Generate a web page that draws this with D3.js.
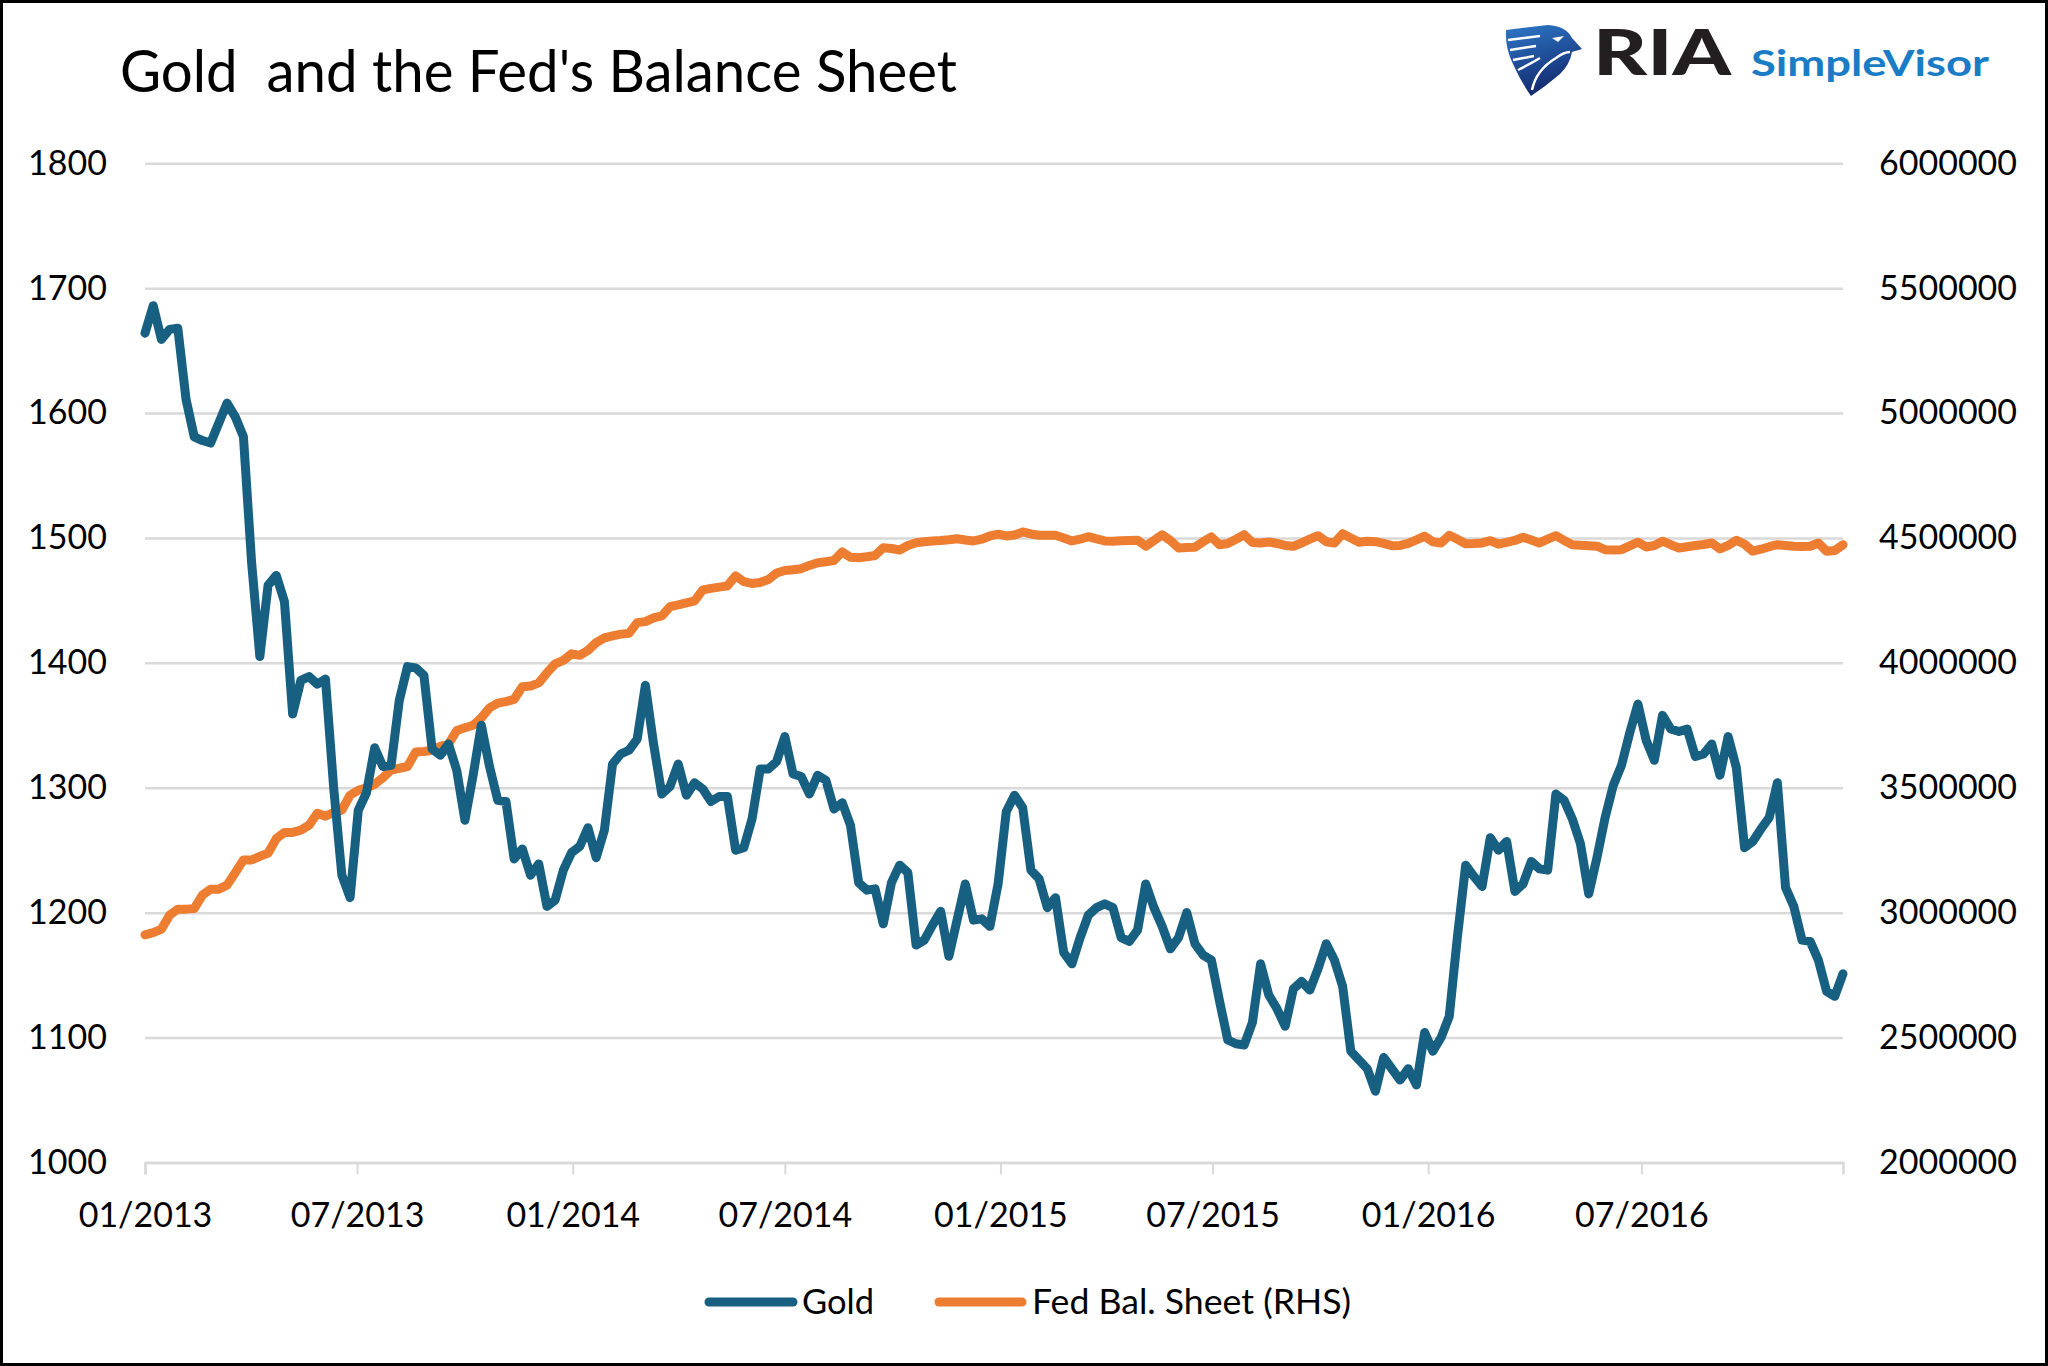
<!DOCTYPE html>
<html>
<head>
<meta charset="utf-8">
<script src="https://cdn.jsdelivr.net/npm/d3@7"></script>
<style>
  html, body { margin: 0; padding: 0; background: #fff; }
  svg { display: block; }
  text { font-family: Lato, "Open Sans", "DejaVu Sans", sans-serif; }
</style>
</head>
<body>
<svg id="chart" width="2048" height="1366"></svg>
<script>
// ---------------- DATA ----------------
const titleText = "Gold  and the Fed's Balance Sheet";
const seriesNames = ["Gold", "Fed Bal. Sheet (RHS)"];
const firstWeek = "2013-01-04";   // weekly observations start
const goldPrice = [
  1664,1686,1659,1667,1668,1611,1581,1578,1576,1592,
  1608,1597,1581,1480,1405,1462,1470,1449,1359,1386,
  1389,1383,1387,1300,1230,1212,1282,1296,1332,1317,
  1318,1370,1397,1396,1390,1331,1326,1335,1314,1274,
  1310,1350,1317,1290,1289,1243,1251,1230,1239,1205,
  1210,1234,1248,1253,1268,1244,1266,1319,1327,1330,
  1339,1382,1335,1295,1301,1319,1294,1304,1299,1289,
  1293,1293,1250,1252,1275,1315,1315,1321,1341,1311,
  1309,1295,1310,1306,1283,1288,1270,1224,1218,1219,
  1191,1224,1238,1232,1174,1178,1190,1201,1165,1194,
  1223,1194,1195,1189,1223,1281,1294,1284,1234,1227,
  1204,1212,1168,1159,1180,1198,1204,1207,1204,1180,
  1177,1186,1223,1204,1189,1171,1180,1200,1175,1166,
  1162,1129,1098,1095,1094,1112,1159,1134,1123,1109,
  1139,1145,1138,1155,1175,1162,1141,1089,1082,1075,
  1057,1084,1075,1066,1075,1062,1104,1089,1100,1117,
  1181,1238,1229,1221,1260,1250,1257,1217,1223,1241,
  1235,1234,1295,1290,1275,1255,1215,1244,1276,1302,
  1318,1344,1367,1338,1322,1358,1347,1345,1347,1325,
  1327,1335,1310,1341,1316,1252,1257,1267,1276,1304,
  1220,1205,1178,1177,1162,1137,1133,1151
];
const fedBalance = [
  2911000,2920000,2934000,2990000,3014000,3014000,3016000,3070000,3094000,3094000,
  3110000,3160000,3211000,3211000,3225000,3238000,3296000,3321000,3321000,3330000,
  3350000,3398000,3386000,3400000,3411000,3470000,3490000,3500000,3514000,3540000,
  3571000,3578000,3585000,3643000,3645000,3650000,3666000,3675000,3729000,3740000,
  3750000,3780000,3820000,3839000,3845000,3854000,3904000,3907000,3920000,3960000,
  3996000,4010000,4036000,4030000,4050000,4081000,4100000,4108000,4115000,4118000,
  4161000,4165000,4180000,4188000,4225000,4232000,4240000,4248000,4292000,4298000,
  4303000,4308000,4348000,4325000,4318000,4322000,4334000,4360000,4370000,4373000,
  4377000,4390000,4401000,4405000,4410000,4444000,4423000,4421000,4425000,4430000,
  4461000,4458000,4452000,4470000,4481000,4485000,4488000,4490000,4493000,4497000,
  4492000,4488000,4495000,4508000,4515000,4508000,4512000,4524000,4516000,4511000,
  4511000,4511000,4500000,4488000,4495000,4505000,4496000,4488000,4487000,4489000,
  4490000,4491000,4467000,4490000,4513000,4490000,4460000,4462000,4463000,4485000,
  4504000,4473000,4478000,4495000,4513000,4482000,4480000,4484000,4478000,4470000,
  4467000,4480000,4495000,4509000,4485000,4480000,4517000,4500000,4483000,4487000,
  4485000,4478000,4469000,4470000,4478000,4492000,4507000,4485000,4480000,4511000,
  4495000,4477000,4478000,4480000,4489000,4475000,4482000,4490000,4503000,4492000,
  4480000,4495000,4509000,4490000,4473000,4471000,4469000,4467000,4453000,4452000,
  4453000,4468000,4483000,4464000,4470000,4487000,4473000,4460000,4465000,4470000,
  4474000,4480000,4456000,4470000,4491000,4475000,4447000,4455000,4465000,4473000,
  4470000,4467000,4466000,4467000,4480000,4447000,4450000,4473000
];
const leftTicks = [1000,1100,1200,1300,1400,1500,1600,1700,1800];
const rightTicks = [2000000,2500000,3000000,3500000,4000000,4500000,5000000,5500000,6000000];
const xTickDates = ["2013-01-04","2013-07-04","2014-01-04","2014-07-04","2015-01-04","2015-07-04","2016-01-04","2016-07-04"];
const xTickLabels = ["01/2013","07/2013","01/2014","07/2014","01/2015","07/2015","01/2016","07/2016"];

// ---------------- CHART ----------------
const svg = d3.select("#chart");
const parse = d3.timeParse("%Y-%m-%d");
const start = parse(firstWeek);
const dates = goldPrice.map((_, i) => d3.timeDay.offset(start, 7 * i));

const L = 145, R = 1843, T = 163.3, B = 1162.4;
const x = d3.scaleTime().domain([dates[0], dates[dates.length - 1]]).range([L, R]);
const yL = d3.scaleLinear().domain([1000, 1800]).range([B, T]);
const yR = d3.scaleLinear().domain([2000000, 6000000]).range([B, T]);

const C_GOLD = "#186082", C_FED = "#ED7D31", C_GRID = "#d9d9d9";

svg.append("rect").attr("x", 1.5).attr("y", 1.5).attr("width", 2045).attr("height", 1363)
  .attr("fill", "#fff").attr("stroke", "#000").attr("stroke-width", 3);

// gridlines
const grid = svg.append("g").attr("transform", `translate(${L},0)`)
  .call(d3.axisLeft(yL).tickValues(leftTicks).tickSize(-(R - L)).tickFormat(""));
grid.select(".domain").remove();
grid.selectAll("line").attr("stroke", C_GRID).attr("stroke-width", 2.5);

// left axis labels
const ax = svg.append("g").attr("transform", `translate(${L},0)`)
  .call(d3.axisLeft(yL).tickValues(leftTicks).tickSize(0).tickPadding(38).tickFormat(d3.format("d")));
ax.select(".domain").remove();
ax.selectAll("text").attr("font-size", 34).attr("fill", "#000");

// right axis labels
const axR = svg.append("g").attr("transform", `translate(${R},0)`)
  .call(d3.axisRight(yR).tickValues(rightTicks).tickSize(0).tickPadding(36).tickFormat(d3.format("d")));
axR.select(".domain").remove();
axR.selectAll("text").attr("font-size", 34).attr("fill", "#000");

// bottom axis
const xTicks = xTickDates.map(parse);
const axB = svg.append("g").attr("transform", `translate(0,${B})`)
  .call(d3.axisBottom(x).tickValues(xTicks).tickSize(12).tickPadding(28)
    .tickFormat((d, i) => xTickLabels[i]));
axB.select(".domain").attr("stroke", C_GRID).attr("stroke-width", 2.5);
axB.selectAll("line").attr("stroke", C_GRID).attr("stroke-width", 2);
axB.selectAll("text").attr("font-size", 34).attr("fill", "#000");

// lines
const fedLine = d3.line().x((d, i) => x(dates[i])).y(d => yR(d));
const goldLine = d3.line().x((d, i) => x(dates[i])).y(d => yL(d));
svg.append("path").datum(fedBalance).attr("d", fedLine)
  .attr("fill", "none").attr("stroke", C_FED).attr("stroke-width", 9)
  .attr("stroke-linejoin", "round").attr("stroke-linecap", "round");
svg.append("path").datum(goldPrice).attr("d", goldLine)
  .attr("fill", "none").attr("stroke", C_GOLD).attr("stroke-width", 9)
  .attr("stroke-linejoin", "round").attr("stroke-linecap", "round");

// title
svg.append("text").attr("x", 120).attr("y", 92).attr("font-size", 58)
  .style("white-space", "pre").attr("textLength", 837).attr("lengthAdjust", "spacingAndGlyphs")
  .attr("fill", "#000").text(titleText);

// legend
const legend = [
  {name: seriesNames[0], color: C_GOLD, x0: 709, x1: 793, tx: 802, w: 72},
  {name: seriesNames[1], color: C_FED, x0: 939, x1: 1022, tx: 1032, w: 319}
];
const lg = svg.append("g");
legend.forEach(d => {
  lg.append("line").attr("x1", d.x0).attr("x2", d.x1).attr("y1", 1302).attr("y2", 1302)
    .attr("stroke", d.color).attr("stroke-width", 9).attr("stroke-linecap", "round");
  lg.append("text").attr("x", d.tx).attr("y", 1302).attr("dy", "0.35em")
    .attr("font-size", 34).attr("fill", "#000")
    .attr("textLength", d.w).attr("lengthAdjust", "spacingAndGlyphs").text(d.name);
});

// logo
const defs = svg.append("defs");
const grad = defs.append("linearGradient").attr("id", "eg").attr("x1", 0).attr("y1", 0).attr("x2", 0.3).attr("y2", 1);
grad.append("stop").attr("offset", "0%").attr("stop-color", "#2d78c8");
grad.append("stop").attr("offset", "100%").attr("stop-color", "#142a6e");
const logo = svg.append("g");
logo.append("path")
  .attr("d", "M1506,30 L1548,25 Q1566,26 1572,38 L1582,49 L1572,52 Q1570,64 1560,74 Q1546,86 1531,96 Q1521,82 1513,64 Q1505,48 1506,30 Z")
  .attr("fill", "url(#eg)");
[["M1508,40 L1540,36"], ["M1510,50 L1536,46"], ["M1513,60 L1534,56"], ["M1518,70 Q1530,64 1540,58"],
 ["M1532,90 Q1536,70 1556,58 Q1564,52 1570,52"]].forEach(p => {
  logo.append("path").attr("d", p[0]).attr("stroke", "#fff").attr("stroke-width", 2.5).attr("fill", "none");
});
logo.append("path").attr("d", "M1552,38 L1564,36 L1558,42 Z").attr("fill", "#fff");
logo.append("text").attr("x", 1593).attr("y", 75).attr("font-size", 62).attr("font-weight", 900)
  .attr("fill", "#231f20").attr("textLength", 138).attr("lengthAdjust", "spacingAndGlyphs").text("RIA");
logo.append("text").attr("x", 1751).attr("y", 76).attr("font-size", 37).attr("font-weight", 700)
  .attr("fill", "#1b7cc6").attr("textLength", 238).attr("lengthAdjust", "spacingAndGlyphs").text("SimpleVisor");
</script>
</body>
</html>
